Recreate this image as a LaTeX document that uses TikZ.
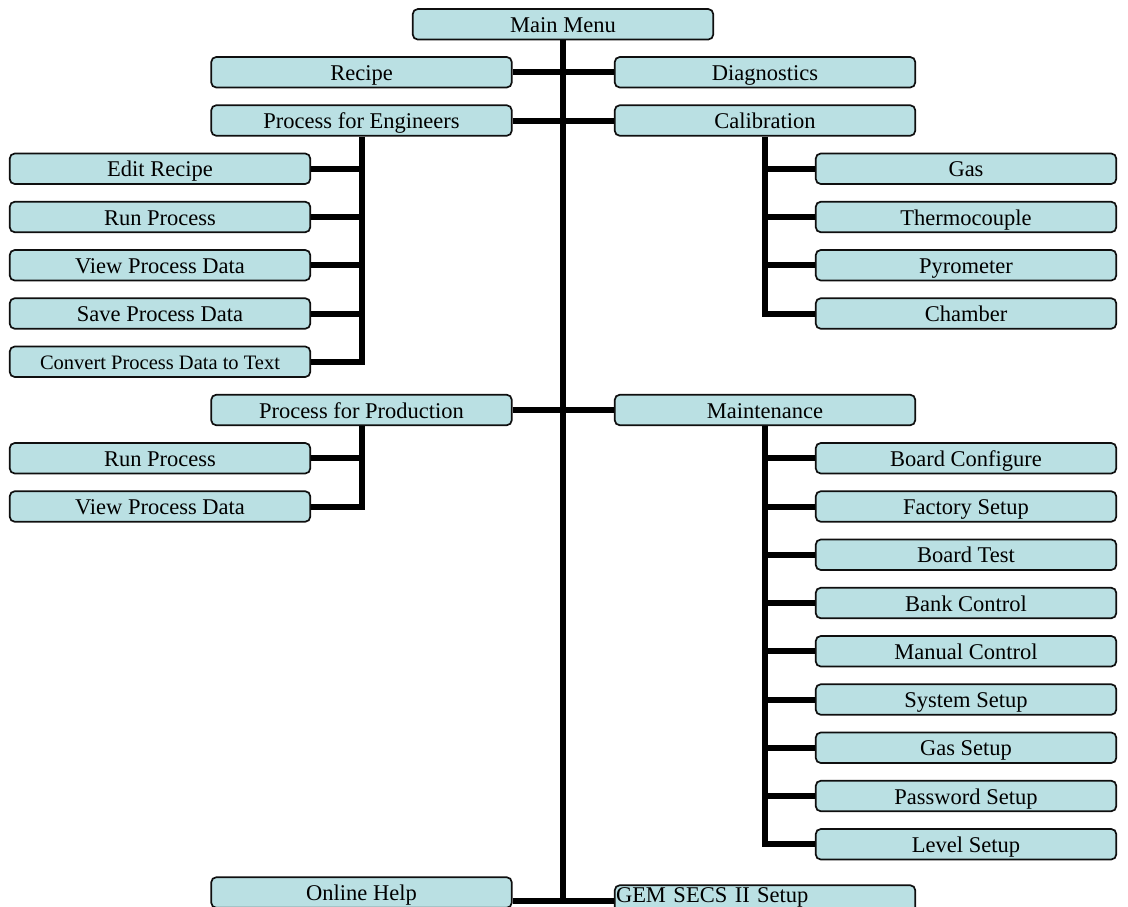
\documentclass[tikz,border=0pt]{standalone}
\usepackage{fontspec}
\setmainfont{Liberation Serif}
\definecolor{boxfill}{RGB}{186,224,227}
\definecolor{boxline}{RGB}{15,15,15}
\begin{document}
\begin{tikzpicture}[x=1pt,y=-1pt,
  box/.style={draw=boxline, line width=1.7pt, rounded corners=5pt, fill=boxfill,
    minimum width=300.5pt, minimum height=30.5pt, inner sep=0pt,
    text height=16pt, text depth=0pt, font=\fontsize{22.5}{26}\selectfont},
  smallbox/.style={box, text height=14.5pt, font=\fontsize{20.5}{24}\selectfont},
  leftbox/.style={box, text width=298pt, align=left, text height=16pt, text depth=13pt},
  conn/.style={line width=6pt, black, line cap=butt, line join=miter}]
\useasboundingbox (0,0) rectangle (1128,907);
\clip (0,0) rectangle (1128,907);
% top level
\node[box] (main) at (563,24.3) {Main Menu};
\node[box] (recipe) at (361.5,72.25) {Recipe};
\node[box] (diag) at (765,72.25) {Diagnostics};
\node[box] (pfe) at (361.5,120.5) {Process for Engineers};
\node[box] (cal) at (765,120.5) {Calibration};
% engineers
\node[box] (edit) at (160,168.75) {Edit Recipe};
\node[box] (runa) at (160,217) {Run Process};
\node[box] (viewa) at (160,265.25) {View Process Data};
\node[box] (save) at (160,313.5) {Save Process Data};
\node[smallbox] (conv) at (160,361.75) {Convert Process Data to Text};
% calibration
\node[box] (gas) at (966,168.75) {Gas};
\node[box] (thermo) at (966,217) {Thermocouple};
\node[box] (pyro) at (966,265.25) {Pyrometer};
\node[box] (chamber) at (966,313.5) {Chamber};
% production / maintenance
\node[box] (pfp) at (361.5,410) {Process for Production};
\node[box] (maint) at (765,410) {Maintenance};
\node[box] (runb) at (160,458.25) {Run Process};
\node[box] (viewb) at (160,506.5) {View Process Data};
\node[box] (bconf) at (966,458.25) {Board Configure};
\node[box] (fact) at (966,506.5) {Factory Setup};
\node[box] (btest) at (966,554.75) {Board Test};
\node[box] (bank) at (966,603) {Bank Control};
\node[box] (manual) at (966,651.25) {Manual Control};
\node[box] (sys) at (966,699.5) {System Setup};
\node[box] (gass) at (966,747.75) {Gas Setup};
\node[box] (pass) at (966,796) {Password Setup};
\node[box] (level) at (966,844.25) {Level Setup};
% bottom
\node[box] (help) at (361.5,892.5) {Online Help};
\node[leftbox] (gem) at (765,900.5) {GEM SECS II Setup};
% connectors
\draw[conn] (main.south) -- (main.south |- gem.west);
\draw[conn] (recipe) -- (diag);
\draw[conn] (pfe) -- (cal);
\draw[conn] (pfp) -- (maint);
\draw[conn] (help.east |- gem.west) -- (gem.west);
% engineers branch
\draw[conn] (pfe.south) -- (pfe.south |- conv.east) -- (conv.east);
\foreach \n in {edit,runa,viewa,save}
  \draw[conn] (\n.east) -- (pfe.south |- \n.east);
% calibration branch
\draw[conn] (cal.south) -- (cal.south |- chamber.west) -- (chamber.west);
\foreach \n in {gas,thermo,pyro}
  \draw[conn] (cal.south |- \n.west) -- (\n.west);
% production branch
\draw[conn] (pfp.south) -- (pfp.south |- viewb.east) -- (viewb.east);
\draw[conn] (runb.east) -- (pfp.south |- runb.east);
% maintenance branch
\draw[conn] (maint.south) -- (maint.south |- level.west) -- (level.west);
\foreach \n in {bconf,fact,btest,bank,manual,sys,gass,pass}
  \draw[conn] (maint.south |- \n.west) -- (\n.west);
\end{tikzpicture}
\end{document}
